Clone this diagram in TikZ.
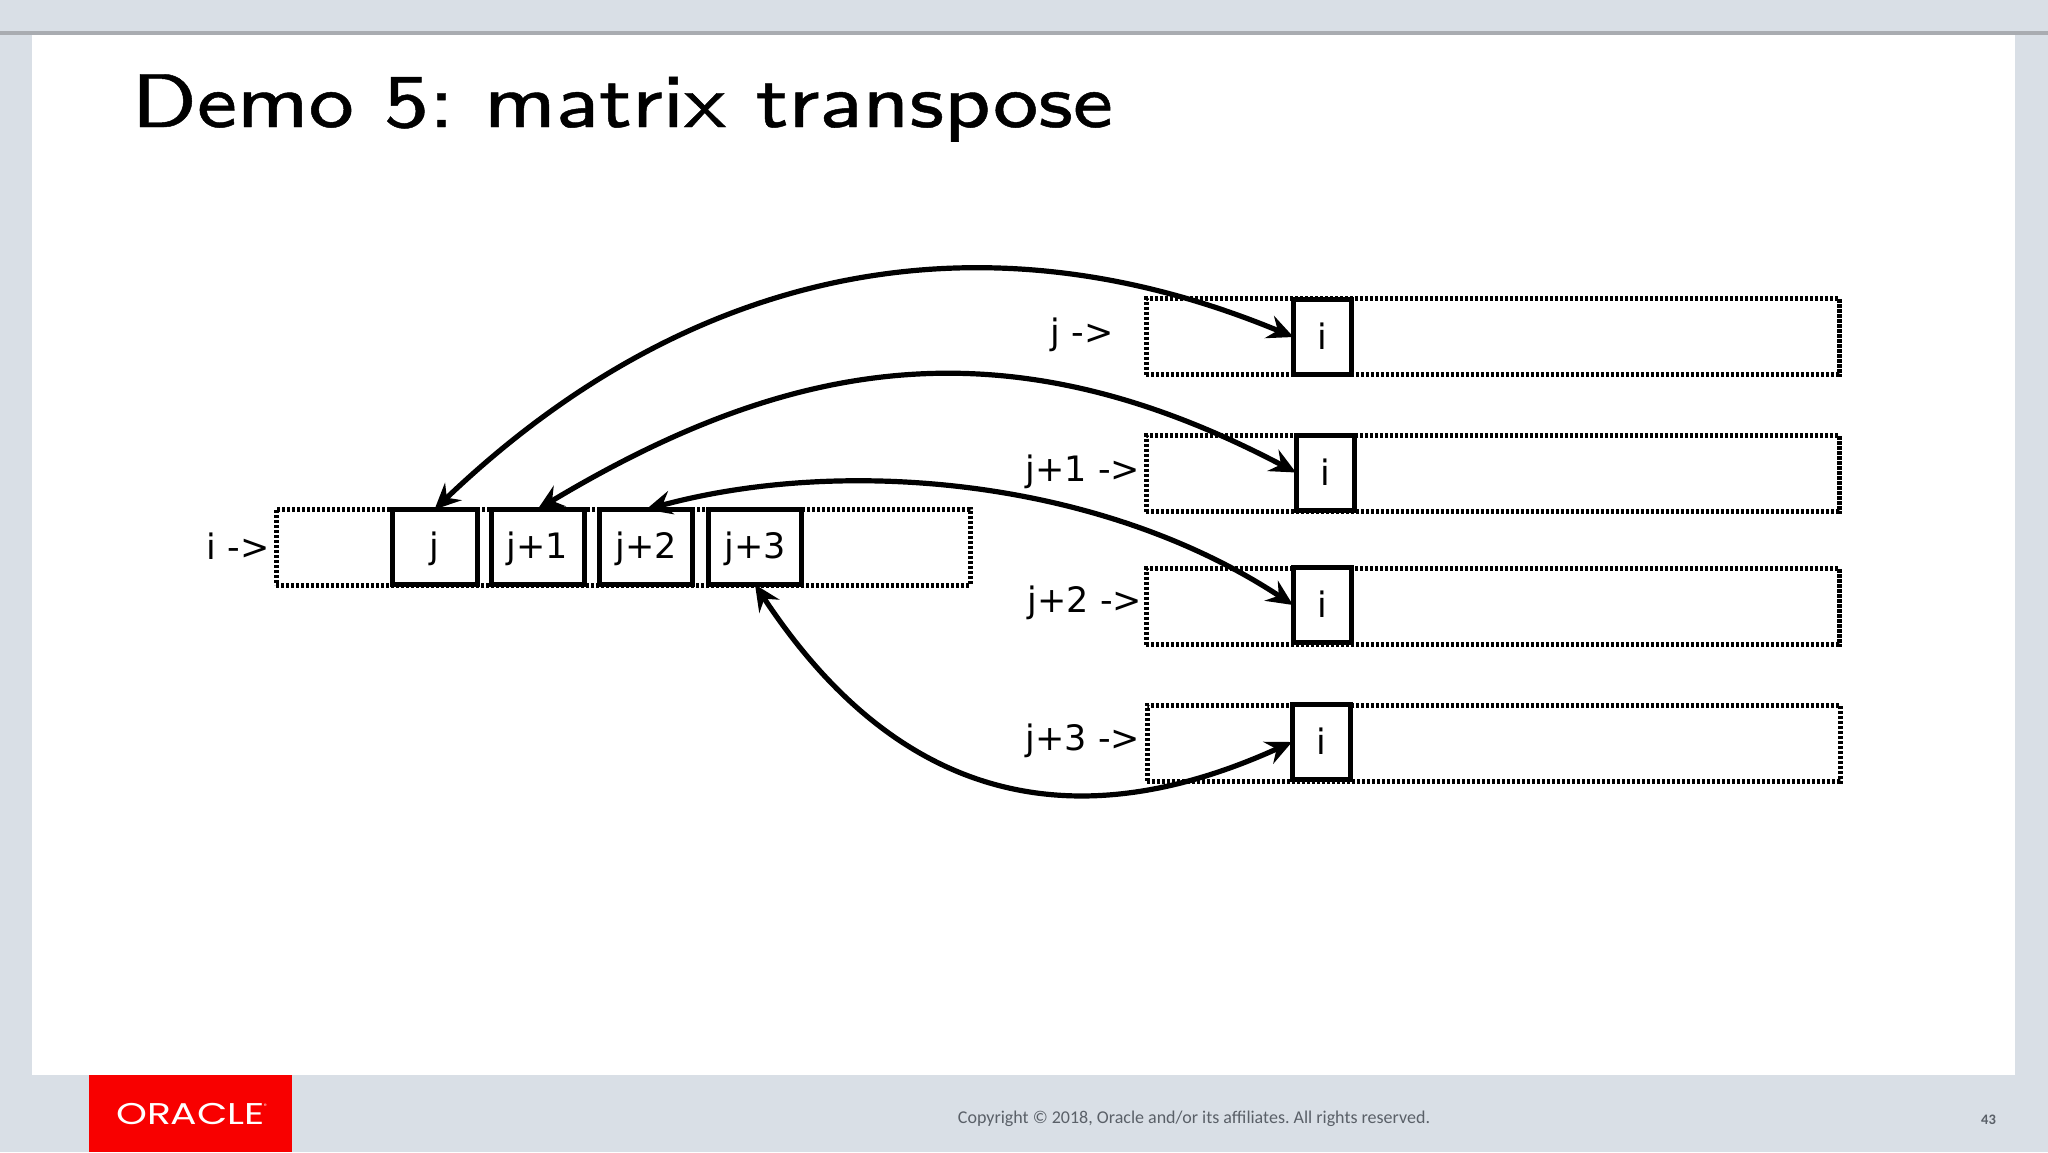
\documentclass[tikz,border=0pt]{standalone}
\usepackage{fontspec}
\usetikzlibrary{arrows.meta}
\newfontfamily\labfont{DejaVu Sans}
\newfontfamily\footfont{Carlito}
\newfontfamily\logofont{Poppins}
\newfontfamily\titlefont[OpticalSize=8,FakeBold=0.6]{Latin Modern Sans}
\definecolor{slidebg}{HTML}{D9DFE6}
\definecolor{slideline}{HTML}{A9ACB1}
\definecolor{oraclered}{HTML}{F80000}
\definecolor{foottext}{HTML}{5A6068}
\tikzset{
  rowbox/.style={draw=black,line width=5pt,dash pattern=on 3.2pt off 1.8pt,inner sep=0pt,outer sep=0pt,minimum height=76pt},
  cell/.style={draw=black,fill=white,line width=5pt,inner sep=0pt,outer sep=0pt,minimum height=75pt,text=black,text height=30pt,text depth=7pt,font=\labfont\fontsize{35}{40}\selectfont},
  lab/.style={inner sep=0pt,outer sep=0pt,text=black,font=\labfont\fontsize{35}{40}\selectfont},
  conn/.style={line width=5.2pt,draw=black,{Stealth[length=26pt,width=24pt,inset=9pt]}-{Stealth[length=26pt,width=24pt,inset=9pt]}}
}
\begin{document}
\begin{tikzpicture}[x=1pt,y=-1pt]
\useasboundingbox (0,0) rectangle (2048,1152);
\fill[slidebg] (0,0) rectangle (2048,1152);
\fill[white] (32,35) rectangle (2015,1075);
\fill[slideline] (0,31) rectangle (2048,35);
\fill[oraclered] (89,1075) rectangle (292,1152);
\node[inner sep=0pt,anchor=base west,xscale=1.118,text=black,font=\titlefont\fontsize{76}{80}\selectfont\frenchspacing] (title) at (131.5,127) {Demo 5: matrix transpose};
% rows
\node[rowbox,minimum width=694pt] (rowi) at (623,547) {};
\node[rowbox,minimum width=693pt] (row0) at (1492.5,336.5) {};
\node[rowbox,minimum width=693pt] (row1) at (1492.5,473.5) {};
\node[rowbox,minimum width=693pt] (row2) at (1492.5,606.5) {};
\node[rowbox,minimum width=693pt] (row3) at (1493.5,743) {};
% cells
\node[cell,minimum width=85pt] (cj) at (434.5,547) {j};
\node[cell,minimum width=93pt] (cj1) at (537.5,547) {j+1};
\node[cell,minimum width=93pt] (cj2) at (646,547) {j+2};
\node[cell,minimum width=93pt] (cj3) at (755,547) {j+3};
\node[cell,minimum width=58pt,text height=25pt,text depth=0pt] (i0) at (1322.5,337) {i};
\node[cell,minimum width=58pt,text height=25pt,text depth=0pt] (i1) at (1325,472.5) {i};
\node[cell,minimum width=58pt,text height=25pt,text depth=0pt] (i2) at (1322,605) {i};
\node[cell,minimum width=58pt,text height=25pt,text depth=0pt] (i3) at (1321,742) {i};
% labels
\node[lab] (li) at (238,546) {i ->};
\node[lab] (l0) at (1082,335) {j ->};
\node[lab] (l1) at (1083,472) {j+1 ->};
\node[lab] (l2) at (1085,603) {j+2 ->};
\node[lab] (l3) at (1083,741) {j+3 ->};
% connectors
\draw[conn] (i0.west) .. controls (975,205) and (685,270) .. (cj.north);
\draw[conn] (i1.west) .. controls (1010,322) and (795,355) .. (cj1.north);
\draw[conn] (i2.west) .. controls (1100,478) and (843,456) .. (cj2.north);
\draw[conn] (i3.west) .. controls (1085,836) and (905,812) .. (cj3.south);
% footer
\node[inner sep=0pt,xscale=1.31,text=white,font=\logofont\fontsize{30}{32}\selectfont] (logo) at (190.5,1113.5) {ORACLE};
\node[inner sep=0pt,text=white,font=\footfont\fontsize{8}{9}\selectfont] (tm) at (266,1107) {®};
\node[inner sep=0pt,text=foottext,font=\footfont\fontsize{18}{20}\selectfont\frenchspacing] (copy) at (1194,1119) {Copyright © 2018, Oracle and/or its affiliates. All rights reserved.};
\node[inner sep=0pt,text=foottext,font=\footfont\bfseries\fontsize{14.5}{16}\selectfont] (pg) at (1988.5,1120) {43};
\end{tikzpicture}
\end{document}
